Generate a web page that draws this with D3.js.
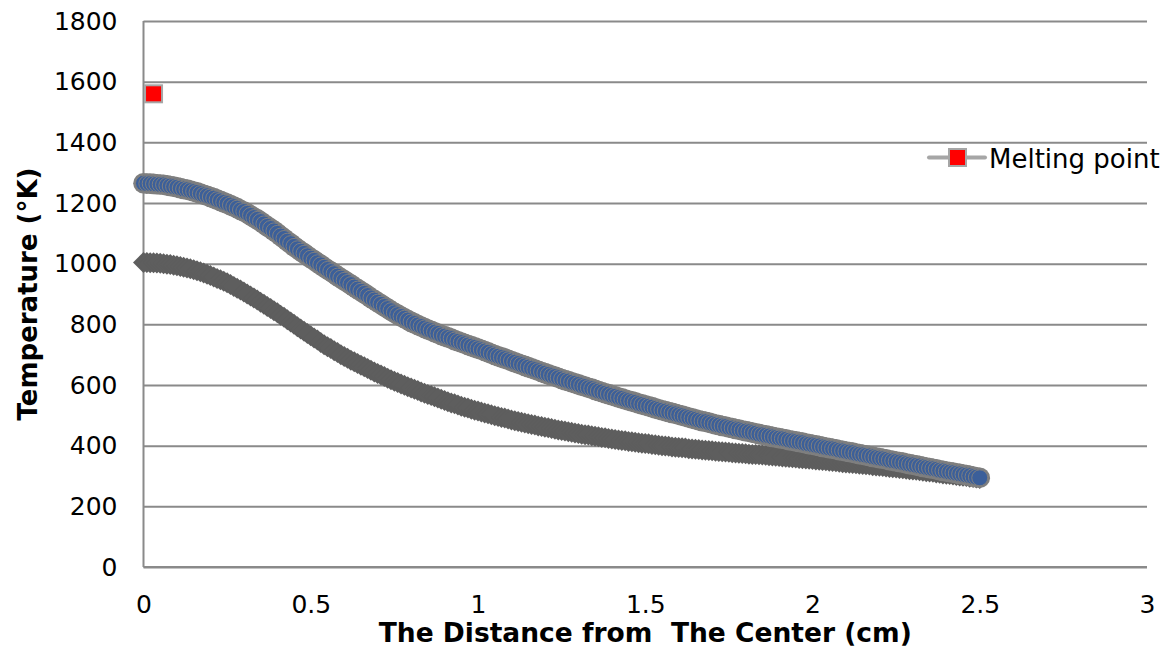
<!DOCTYPE html>
<html>
<head>
<meta charset="utf-8">
<script src="https://cdn.jsdelivr.net/npm/d3@7"></script>
<style>
  body { margin: 0; background: #fff; }
  svg { display: block; font-family: "DejaVu Sans", Verdana, sans-serif; }
</style>
</head>
<body>
<div id="chart"></div>
<script>
// temperatures sampled every 0.01 cm from the center out to 2.5 cm
const step = 0.01;

const upperTemp = [
  1265,1264,1264,1263,1262,1261,
  1260,1258,1256,1254,1252, 1249,1246,1244,1241,1238, 1235,1231,1227,1224,1220,
  1216,1211,1207,1202,1198, 1193,1188,1183,1177,1172, 1166,1159,1152,1146,1139,
  1131,1123,1116,1108,1100, 1091,1083,1074,1066,1057, 1049,1041,1034,1026,1018,
  1011,1003,996,988,981, 974,967,959,952,945, 938,931,923,916,909,
  902,895,887,880,873, 866,859,852,845,838, 832,826,820,814,808,
  803,798,793,788,783, 779,774,770,765,761, 757,753,748,744,740,
  736,732,728,724,720, 716,712,708,703,699, 695,691,687,683,679,
  675,671,667,663,659, 655,651,647,643,639, 635,631,628,624,620,
  616,613,609,606,602, 598,595,591,588,584, 580,577,573,570,566,
  563,559,556,552,549, 546,543,539,536,533, 530,527,523,520,517,
  514,511,508,505,502, 499,496,493,490,487, 484,481,479,476,473,
  470,468,465,463,460, 458,455,453,450,448, 446,443,441,438,436,
  434,432,429,427,425, 423,421,418,416,414, 412,410,407,405,403,
  401,399,396,394,392, 390,388,385,383,381, 379,377,374,372,370,
  368,366,363,361,359, 357,355,352,350,348, 346,344,341,339,337,
  335,333,330,328,326, 324,322,319,317,315, 313,311,309,307,305,
  303,301,298,296,294
];

const lowerTemp = [
  1004,1004,1003,1003,1002,1001,
  1000,998,997,995,993, 991,988,986,983,980, 977,973,969,965,961,
  956,951,947,942,937, 931,925,919,913,907, 900,893,887,880,873,
  866,859,852,845,838, 830,823,815,808,800, 792,785,777,770,762,
  755,748,740,733,726, 720,713,707,700,694, 688,682,677,671,665,
  660,654,649,643,638, 633,628,622,617,612, 608,603,599,594,590,
  586,582,577,573,569, 565,561,557,553,549, 545,541,538,534,530,
  527,524,520,517,514, 511,508,505,502,499, 496,493,491,488,485,
  482,480,477,475,472, 470,468,465,463,461, 459,457,454,452,450,
  448,446,444,442,440, 438,436,435,433,431, 429,427,426,424,422,
  420,419,417,416,414, 413,411,410,408,407, 406,404,403,401,400,
  399,398,396,395,394, 393,392,390,389,388, 387,386,385,384,383,
  382,381,380,379,378, 377,376,375,374,373, 372,371,371,370,369,
  368,367,366,365,364, 363,362,361,360,359, 358,357,356,355,354,
  353,352,351,350,349, 348,347,345,344,343, 342,341,340,339,338,
  337,336,334,333,332, 331,330,328,327,326, 325,324,322,321,320,
  319,317,316,314,313, 312,310,309,307,306, 305,303,302,300,299,
  298,296,295,293,292
];

const meltingPoint = [{ x: 0.03, t: 1560 }];
const meltingLabel = "Melting point";

const xTicks = [0, 0.5, 1, 1.5, 2, 2.5, 3];
const xTickLabels = ["0", "0.5", "1", "1.5", "2", "2.5", "3"];
const yTicks = [0, 200, 400, 600, 800, 1000, 1200, 1400, 1600, 1800];
const yTickLabels = ["0", "200", "400", "600", "800", "1000", "1200", "1400", "1600", "1800"];

const xTitle = "The Distance from  The Center (cm)";
const yTitle = "Temperature (°K)";

const width = 1169, height = 649;
const m = { left: 143.5, right: 1147, top: 21, bottom: 567 };

const svg = d3.select("#chart").append("svg")
  .attr("width", width)
  .attr("height", height);

const x = d3.scaleLinear().domain([0, 3]).range([m.left, m.right]);
const y = d3.scaleLinear().domain([0, 1800]).range([m.bottom, m.top]);

// gridlines + y labels
const yAxis = svg.append("g")
  .attr("transform", `translate(${m.left},0)`)
  .call(d3.axisLeft(y).tickValues(yTicks).tickSize(-(m.right - m.left)).tickPadding(26)
    .tickFormat((d, i) => yTickLabels[i]));
yAxis.select(".domain").remove();
yAxis.selectAll(".tick line").attr("stroke", "#8a8a8a").attr("stroke-width", 2);
yAxis.selectAll(".tick text").attr("font-size", 25).attr("fill", "#000")
  .attr("font-family", "DejaVu Sans, Verdana, sans-serif");

const xAxis = svg.append("g")
  .attr("transform", `translate(0,${m.bottom})`)
  .call(d3.axisBottom(x).tickValues(xTicks).tickSize(0).tickPadding(28)
    .tickFormat((d, i) => xTickLabels[i]));
xAxis.select(".domain").remove();
xAxis.selectAll(".tick text").attr("font-size", 25).attr("fill", "#000")
  .attr("font-family", "DejaVu Sans, Verdana, sans-serif");

// axis lines
svg.append("line")
  .attr("x1", m.left).attr("x2", m.left).attr("y1", m.top).attr("y2", m.bottom)
  .attr("stroke", "#8a8a8a").attr("stroke-width", 2);
svg.append("line")
  .attr("x1", m.left).attr("x2", m.right).attr("y1", m.bottom).attr("y2", m.bottom)
  .attr("stroke", "#8a8a8a").attr("stroke-width", 2);

const lowerPts = lowerTemp.map((t, i) => ({ x: i * step, t }));
const upperPts = upperTemp.map((t, i) => ({ x: i * step, t }));

// lower series: gray diamonds
const dia = 10.5;
svg.append("g").selectAll("path")
  .data(lowerPts)
  .enter().append("path")
  .attr("d", d => `M${x(d.x)},${y(d.t) - dia}L${x(d.x) + dia},${y(d.t)}L${x(d.x)},${y(d.t) + dia}L${x(d.x) - dia},${y(d.t)}Z`)
  .attr("fill", "#5e5e5e");

// upper series: gray rim underneath, then blue circles with thin outline
svg.append("g").selectAll("circle")
  .data(upperPts)
  .enter().append("circle")
  .attr("cx", d => x(d.x))
  .attr("cy", d => y(d.t))
  .attr("r", 10.3)
  .attr("fill", "#7f7f7f");

svg.append("g").selectAll("circle")
  .data(upperPts)
  .enter().append("circle")
  .attr("cx", d => x(d.x))
  .attr("cy", d => y(d.t))
  .attr("r", 8)
  .attr("fill", "#3b5f9a")
  .attr("stroke", "#7f7f7f")
  .attr("stroke-width", 1);

// melting point
svg.append("g").selectAll("rect")
  .data(meltingPoint)
  .enter().append("rect")
  .attr("x", d => x(d.x) - 8.5)
  .attr("y", d => y(d.t) - 8.5)
  .attr("width", 17).attr("height", 17)
  .attr("fill", "#ff0000")
  .attr("stroke", "#a6a6a6")
  .attr("stroke-width", 2);

// legend
const lg = svg.append("g").attr("transform", "translate(929,157.5)");
lg.append("line").attr("x1", 0).attr("x2", 56).attr("y1", 0).attr("y2", 0)
  .attr("stroke", "#a6a6a6").attr("stroke-width", 4).attr("stroke-linecap", "round");
lg.append("rect").attr("x", 20).attr("y", -8.5).attr("width", 17).attr("height", 17)
  .attr("fill", "#ff0000").attr("stroke", "#a6a6a6").attr("stroke-width", 2);
lg.append("text").attr("x", 60).attr("y", 10).attr("font-size", 26)
  .attr("fill", "#000").text(meltingLabel);

// axis titles
svg.append("text")
  .attr("x", (m.left + m.right) / 2).attr("y", 642)
  .attr("text-anchor", "middle").attr("font-size", 26.5).attr("font-weight", "bold")
  .attr("xml:space", "preserve").style("white-space", "pre")
  .text(xTitle);

svg.append("text")
  .attr("transform", `translate(37,${(m.top + m.bottom) / 2}) rotate(-90)`)
  .attr("text-anchor", "middle").attr("font-size", 26).attr("font-weight", "bold")
  .text(yTitle);
</script>
</body>
</html>
